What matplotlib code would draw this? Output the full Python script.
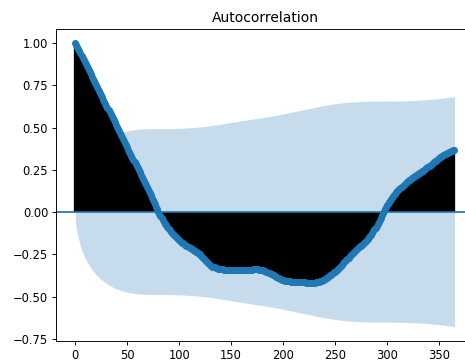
import numpy as np
import matplotlib
matplotlib.use('Agg')
import matplotlib.pyplot as plt

# autocorrelation, lags 0..365
acf = np.array([
    1.000, 0.988, 0.976, 0.963, 0.951, 0.939, 0.926, 0.914, 0.901, 0.889,
    0.877, 0.864, 0.852, 0.840, 0.827, 0.815, 0.802, 0.790, 0.778, 0.765,
    0.753, 0.741, 0.728, 0.716, 0.703, 0.691, 0.679, 0.666, 0.654, 0.642,
    0.630, 0.617, 0.605, 0.592, 0.580, 0.568, 0.555, 0.543, 0.531, 0.518,
    0.506, 0.494, 0.481, 0.469, 0.457, 0.444, 0.432, 0.420, 0.407, 0.395,
    0.383, 0.370, 0.358, 0.346, 0.333, 0.321, 0.309, 0.296, 0.284, 0.272,
    0.260, 0.247, 0.235, 0.222, 0.210, 0.198, 0.185, 0.173, 0.161, 0.148,
    0.136, 0.124, 0.111, 0.099, 0.086, 0.073, 0.060, 0.046, 0.032, 0.017,
    0.002, -0.012, -0.025, -0.037, -0.049, -0.060, -0.069, -0.078, -0.086, -0.094,
    -0.101, -0.108, -0.115, -0.121, -0.128, -0.134, -0.140, -0.147, -0.153, -0.159,
    -0.165, -0.170, -0.175, -0.180, -0.185, -0.190, -0.194, -0.198, -0.202, -0.206,
    -0.210, -0.214, -0.218, -0.222, -0.226, -0.230, -0.234, -0.238, -0.242, -0.246,
    -0.250, -0.257, -0.264, -0.271, -0.278, -0.285, -0.291, -0.297, -0.303, -0.309,
    -0.315, -0.319, -0.323, -0.326, -0.328, -0.330, -0.332, -0.334, -0.336, -0.337,
    -0.338, -0.339, -0.339, -0.340, -0.340, -0.341, -0.341, -0.342, -0.342, -0.342,
    -0.342, -0.343, -0.343, -0.344, -0.344, -0.344, -0.344, -0.343, -0.343, -0.343,
    -0.343, -0.342, -0.342, -0.341, -0.341, -0.340, -0.340, -0.340, -0.340, -0.340,
    -0.340, -0.339, -0.339, -0.338, -0.338, -0.338, -0.339, -0.340, -0.341, -0.342,
    -0.343, -0.345, -0.347, -0.350, -0.352, -0.355, -0.358, -0.361, -0.364, -0.367,
    -0.370, -0.374, -0.378, -0.382, -0.386, -0.390, -0.393, -0.395, -0.398, -0.401,
    -0.403, -0.404, -0.405, -0.406, -0.407, -0.408, -0.409, -0.410, -0.411, -0.411,
    -0.412, -0.412, -0.413, -0.413, -0.414, -0.414, -0.415, -0.415, -0.416, -0.416,
    -0.416, -0.416, -0.417, -0.417, -0.417, -0.417, -0.418, -0.418, -0.418, -0.418,
    -0.418, -0.417, -0.416, -0.415, -0.414, -0.412, -0.409, -0.406, -0.403, -0.400,
    -0.397, -0.393, -0.388, -0.384, -0.379, -0.375, -0.370, -0.366, -0.361, -0.357,
    -0.352, -0.347, -0.342, -0.337, -0.331, -0.325, -0.318, -0.311, -0.304, -0.297,
    -0.290, -0.283, -0.276, -0.269, -0.262, -0.255, -0.249, -0.243, -0.237, -0.231,
    -0.225, -0.220, -0.214, -0.209, -0.203, -0.198, -0.192, -0.187, -0.181, -0.176,
    -0.170, -0.164, -0.157, -0.150, -0.143, -0.135, -0.125, -0.114, -0.103, -0.092,
    -0.080, -0.068, -0.056, -0.044, -0.032, -0.020, -0.007, 0.006, 0.018, 0.029,
    0.040, 0.050, 0.059, 0.068, 0.077, 0.085, 0.093, 0.101, 0.109, 0.117,
    0.125, 0.131, 0.137, 0.143, 0.149, 0.155, 0.161, 0.167, 0.173, 0.179,
    0.185, 0.189, 0.193, 0.197, 0.201, 0.205, 0.209, 0.213, 0.217, 0.221,
    0.225, 0.229, 0.233, 0.237, 0.241, 0.245, 0.250, 0.255, 0.260, 0.265,
    0.270, 0.275, 0.280, 0.285, 0.290, 0.295, 0.300, 0.305, 0.310, 0.315,
    0.320, 0.324, 0.328, 0.332, 0.336, 0.340, 0.343, 0.346, 0.349, 0.352,
    0.355, 0.358, 0.361, 0.364, 0.366, 0.368,
])
lags = np.arange(len(acf))
nobs = 860  # sample size, estimated from band width

# Bartlett band, as statsmodels plot_acf draws it
varacf = np.ones(len(acf)) / nobs
varacf[0] = 0
varacf[2:] *= 1 + 2 * np.cumsum(acf[1:-1] ** 2)
band = 1.96 * np.sqrt(varacf)

dpi = 83
fig = plt.figure(figsize=(466 / dpi, 360 / dpi), dpi=dpi)
ax = fig.add_axes([56.3 / 466, 18.7 / 360, (474 - 56.3) / 466, 312.3 / 360])

ax.vlines(lags, [0], acf, colors='black', linewidth=2)
ax.axhline()
ax.margins(0.05)
ax.plot(lags, acf, marker='o', markersize=5, linestyle='None')
ax.set_title('Autocorrelation')

bl = lags[1:].astype(float)
bl[0] -= 0.5
bl[-1] += 0.5
ax.fill_between(bl, -band[1:], band[1:], alpha=0.25)

fig.savefig('out.png', dpi=dpi)
